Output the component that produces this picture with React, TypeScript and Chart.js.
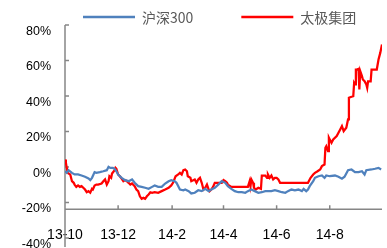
import React, { useEffect, useRef } from "react";
import { Chart, registerables } from "chart.js";

Chart.register(...registerables);

// ---- data ----
// x = calendar days since 2013-10-01, y = cumulative return in %
const seriesNames = ["沪深300", "太极集团"];
const seriesColors = ["#4F81BD", "#FF0000"];

const monthTickDays = [0, 61, 123, 182, 243, 304];
const monthTickLabels = ["13-10", "13-12", "14-2", "14-4", "14-6", "14-8"];
const yTickValues = [-40, -20, 0, 20, 40, 60, 80];
const xAxisCrossValue = -23.8;

const hs300Days = [
  0, 2, 4, 8, 11, 15, 19, 23, 27, 29, 31, 34, 36, 40, 44, 48, 50, 52, 55, 57, 59,
  61, 65, 69, 73, 77, 80, 84, 88, 92, 96, 100, 103, 107, 111, 115, 119, 122, 126,
  128, 132, 136, 138, 142, 145, 149, 153, 157, 161, 165, 168, 172, 176, 180, 184,
  187, 191, 195, 199, 203, 207, 210, 214, 218, 222, 226, 230, 233, 237, 241, 245,
  249, 253, 256, 260, 264, 268, 272, 274, 277, 279, 281, 285, 287, 291, 295, 298,
  300, 304, 310, 314, 318, 321, 325, 329, 333, 337, 341, 344, 346, 352, 356, 360, 363,
];
const hs300Values = [
  -2.4, -3.3, -1.8, -3.3, -4.2, -4.2, -4.8, -5.5, -6.5, -7.4, -6.1, -2.9, -3.3, -2.9,
  -2.4, -1.8, 0.1, -0.5, -0.5, -1.0, -2.4, -4.2, -6.1, -7.4, -8.0, -7.0, -8.9, -10.8,
  -11.2, -11.7, -12.3, -11.2, -10.4, -11.2, -11.2, -9.3, -8.0, -7.4, -8.0, -8.9, -12.7,
  -13.1, -12.7, -13.6, -14.9, -14.5, -13.1, -13.6, -12.3, -13.6, -12.7, -11.7, -9.9,
  -8.0, -8.9, -10.8, -12.3, -13.6, -14.2, -14.2, -14.5, -13.6, -12.7, -13.6, -14.5,
  -14.2, -13.6, -13.6, -13.6, -13.1, -13.6, -14.2, -14.5, -13.6, -12.7, -13.1, -12.7,
  -13.6, -12.3, -13.6, -12.7, -10.8, -8.0, -6.1, -5.2, -4.8, -6.1, -4.8, -5.2, -4.8,
  -5.5, -6.6, -5.5, -1.8, -1.4, -2.9, -2.9, -2.4, -4.2, -1.8, -1.4, -1.0, -0.5, -1.4,
];

const taijiDays = [
  0, 1, 3, 6, 8, 10, 11, 13, 15, 17, 19, 21, 23, 25, 27, 29, 31, 32, 34, 36, 38, 42,
  44, 46, 48, 50, 51, 53, 54, 57, 58, 59, 61, 63, 65, 67, 69, 71, 73, 75, 77, 80, 82,
  84, 86, 88, 90, 92, 94, 96, 98, 100, 103, 107, 111, 115, 119, 122, 124, 127, 130,
  132, 134, 136, 138, 140, 141, 144, 145, 149, 151, 153, 155, 157, 159, 161, 163, 165,
  166, 168, 170, 172, 176, 180, 182, 184, 186, 187, 191, 195, 201, 207, 210, 212, 213,
  214, 216, 217, 219, 222, 225, 226, 230, 232, 233, 235, 237, 239, 241, 243, 245, 247,
  258, 270, 279, 282, 285, 287, 290, 293, 295, 298, 299, 300, 302, 303, 304, 306, 308,
  312, 316, 318, 320, 323, 325, 326, 329, 331, 332, 333, 334, 335, 337, 338, 339, 341,
  342, 344, 346, 347, 348, 351, 352, 354, 358, 360, 362, 364,
];
const taijiValues = [
  4.2, 2.4, -3.3, -4.2, -8.0, -8.9, -9.9, -11.2, -10.4, -11.2, -10.8, -11.7, -12.7,
  -14.2, -13.6, -14.5, -12.3, -12.7, -10.4, -9.9, -9.9, -9.3, -8.0, -7.0, -9.9, -8.0,
  -5.2, -6.1, -3.7, -1.8, -0.5, -1.0, -4.2, -5.2, -6.6, -8.0, -7.4, -8.0, -8.9, -9.9,
  -9.3, -10.8, -12.7, -13.6, -16.5, -17.9, -17.4, -17.9, -16.5, -15.5, -14.2, -14.5,
  -14.2, -14.5, -13.6, -12.7, -11.7, -10.4, -8.9, -5.2, -4.2, -3.3, -4.2, -1.8, -1.4,
  -2.4, -5.2, -6.1, -8.0, -7.0, -8.9, -7.0, -6.1, -8.9, -12.7, -11.7, -9.9, -12.7,
  -13.6, -12.7, -11.2, -8.9, -8.9, -8.9, -7.4, -8.0, -8.9, -9.9, -11.2, -11.2, -11.2,
  -11.2, -11.2, -8.0, -10.8, -7.0, -8.9, -11.7, -12.7, -11.7, -12.3, -4.8, -4.8, -6.1,
  -4.2, -6.1, -4.8, -7.0, -6.1, -6.1, -7.0, -8.9, -8.9, -8.9, -8.9, -6.1, -4.2, -3.3,
  -2.4, -1.4, 0.5, 1.4, 10.8, 11.7, 8.9, 16.5, 15.5, 13.6, 15.5, 17.4, 21.1, 23.0,
  20.2, 22.1, 26.8, 39.0, 39.6, 39.9, 47.4, 46.5, 54.9, 54.9, 55.3, 43.7, 54.0, 51.2,
  49.3, 48.3, 46.5, 44.6, 48.3, 48.3, 54.9, 54.9, 54.9, 60.6, 64.3, 69.0,
];

const AXIS_COLOR = "#868686";
const TICK_LEN = 4;

const decorPlugin = {
  id: "decor",
  beforeDatasetsDraw(chart: any) {
    const { ctx, chartArea, scales } = chart;
    const xs = scales.x;
    const ys = scales.y;
    const axisY = ys.getPixelForValue(xAxisCrossValue);
    ctx.save();
    ctx.strokeStyle = AXIS_COLOR;
    ctx.lineWidth = 1.5;
    ctx.beginPath();
    // vertical axis
    ctx.moveTo(chartArea.left, chartArea.top);
    ctx.lineTo(chartArea.left, chart.height - 1);
    // y tick marks (inside)
    for (const t of ys.ticks) {
      const py = ys.getPixelForValue(t.value);
      ctx.moveTo(chartArea.left, py);
      ctx.lineTo(chartArea.left + TICK_LEN, py);
    }
    // horizontal axis
    ctx.moveTo(chartArea.left, axisY);
    ctx.lineTo(chartArea.right, axisY);
    for (const t of xs.ticks) {
      const px = xs.getPixelForValue(t.value);
      ctx.moveTo(px, axisY);
      ctx.lineTo(px, axisY - TICK_LEN);
    }
    ctx.stroke();
    ctx.restore();
  },
  afterDraw(chart: any) {
    const { ctx, chartArea } = chart;
    const lineW = 52;
    const gap = 7;
    const itemGap = 48;
    const cy = 17;
    ctx.save();
    ctx.font = '14px "Noto Sans CJK SC", sans-serif';
    ctx.textBaseline = "middle";
    ctx.textAlign = "left";
    let x = chartArea.left + 18;
    chart.data.datasets.forEach((ds: any) => {
      ctx.strokeStyle = ds.borderColor;
      ctx.lineWidth = 2.5;
      ctx.beginPath();
      ctx.moveTo(x, cy);
      ctx.lineTo(x + lineW, cy);
      ctx.stroke();
      ctx.fillStyle = "#595959";
      ctx.fillText(ds.label, x + lineW + gap, cy + 1);
      x += lineW + gap + ctx.measureText(ds.label).width + itemGap;
    });
    ctx.restore();
  },
};

export default function App() {
  const ref = useRef<HTMLCanvasElement>(null);

  useEffect(() => {
    if (!ref.current) return;
    const mk = (days: number[], vals: number[]) => days.map((d, i) => ({ x: d, y: vals[i] }));
    const chart = new Chart(ref.current, {
      type: "line",
      data: {
        datasets: [
          {
            label: seriesNames[0],
            data: mk(hs300Days, hs300Values),
            borderColor: seriesColors[0],
            backgroundColor: seriesColors[0],
            borderWidth: 2.25,
            pointRadius: 0,
            tension: 0,
          },
          {
            label: seriesNames[1],
            data: mk(taijiDays, taijiValues),
            borderColor: seriesColors[1],
            backgroundColor: seriesColors[1],
            borderWidth: 2.25,
            pointRadius: 0,
            tension: 0,
          },
        ],
      },
      plugins: [decorPlugin],
      options: {
        responsive: false,
        animation: false,
        devicePixelRatio: 1,
        layout: { padding: { top: 25, right: 5, left: 0, bottom: 10 } },
        plugins: { legend: { display: false }, tooltip: { enabled: false } },
        scales: {
          x: {
            type: "linear",
            min: 0,
            max: 364,
            position: { y: xAxisCrossValue } as any,
            afterFit: (s: any) => {
              s.height = 0;
              s.paddingLeft = 0;
              s.paddingRight = 0;
            },
            afterBuildTicks: (s: any) => {
              s.ticks = monthTickDays.map((v) => ({ value: v }));
            },
            grid: { display: false, drawTicks: false },
            border: { display: false },
            ticks: {
              autoSkip: false,
              maxRotation: 0,
              padding: 17,
              color: "#000",
              font: { family: '"Liberation Sans", Arial, sans-serif', size: 14 },
              callback: (v: any) => {
                const i = monthTickDays.indexOf(Number(v));
                return i >= 0 ? monthTickLabels[i] : "";
              },
            },
          },
          y: {
            min: -40,
            max: 80,
            afterFit: (s: any) => {
              s.width = 65;
              s.paddingTop = 0;
              s.paddingBottom = 0;
            },
            afterBuildTicks: (s: any) => {
              s.ticks = yTickValues.map((v) => ({ value: v }));
            },
            grid: { display: false, drawTicks: false },
            border: { display: false },
            ticks: {
              padding: 14,
              labelOffset: 6.5,
              color: "#000",
              font: { family: '"Liberation Sans", Arial, sans-serif', size: 12.5 },
              callback: (v: any) => `${v}%`,
            },
          },
        },
      },
    });
    return () => chart.destroy();
  }, []);

  return (
    <div style={{ position: "fixed", left: 0, top: 0, width: 387, height: 248, background: "#fff" }}>
      <canvas ref={ref} width={387} height={248} style={{ display: "block" }} />
    </div>
  );
}
